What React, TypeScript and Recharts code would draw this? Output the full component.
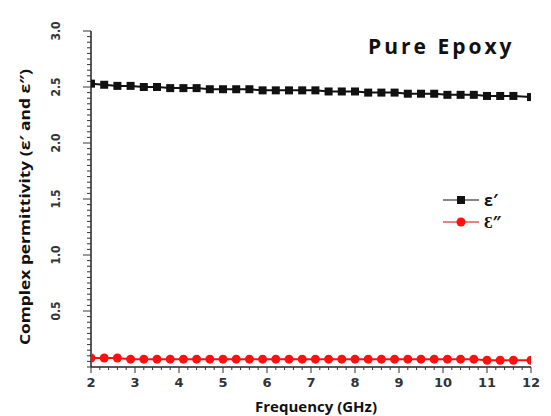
import React from "react";
import { LineChart, Line, XAxis, YAxis, Label } from "recharts";

const frequency = [2.0, 2.3, 2.6, 2.9, 3.2, 3.5, 3.8, 4.1, 4.4, 4.7, 5.0, 5.3, 5.6, 5.9, 6.2, 6.5, 6.8, 7.1, 7.4, 7.7, 8.0, 8.3, 8.6, 8.9, 9.2, 9.5, 9.8, 10.1, 10.4, 10.7, 11.0, 11.3, 11.6, 12.0];
const epsReal = [2.53, 2.52, 2.51, 2.51, 2.5, 2.5, 2.49, 2.49, 2.49, 2.48, 2.48, 2.48, 2.48, 2.47, 2.47, 2.47, 2.47, 2.47, 2.46, 2.46, 2.46, 2.45, 2.45, 2.45, 2.44, 2.44, 2.44, 2.43, 2.43, 2.43, 2.42, 2.42, 2.42, 2.41];
const epsImag = [0.08, 0.08, 0.08, 0.07, 0.07, 0.07, 0.07, 0.07, 0.07, 0.07, 0.07, 0.07, 0.07, 0.07, 0.07, 0.07, 0.07, 0.07, 0.07, 0.07, 0.07, 0.07, 0.07, 0.07, 0.07, 0.07, 0.07, 0.07, 0.07, 0.07, 0.06, 0.06, 0.06, 0.06];

const xMajorLabels = ["2", "3", "4", "5", "6", "7", "8", "9", "10", "11", "12"];
const xAllTicks = [2, 2.2, 2.4, 2.6, 2.8, 3, 3.2, 3.4, 3.6, 3.8, 4, 4.2, 4.4, 4.6, 4.8, 5, 5.2, 5.4, 5.6, 5.8, 6, 6.2, 6.4, 6.6, 6.8, 7, 7.2, 7.4, 7.6, 7.8, 8, 8.2, 8.4, 8.6, 8.8, 9, 9.2, 9.4, 9.6, 9.8, 10, 10.2, 10.4, 10.6, 10.8, 11, 11.2, 11.4, 11.6, 11.8, 12];
const yMajorLabels = ["0.5", "1.0", "1.5", "2.0", "2.5", "3.0"];
const yAllTicks = [0, 0.05, 0.1, 0.15, 0.2, 0.25, 0.3, 0.35, 0.4, 0.45, 0.5, 0.55, 0.6, 0.65, 0.7, 0.75, 0.8, 0.85, 0.9, 0.95, 1.0, 1.05, 1.1, 1.15, 1.2, 1.25, 1.3, 1.35, 1.4, 1.45, 1.5, 1.55, 1.6, 1.65, 1.7, 1.75, 1.8, 1.85, 1.9, 1.95, 2.0, 2.05, 2.1, 2.15, 2.2, 2.25, 2.3, 2.35, 2.4, 2.45, 2.5, 2.55, 2.6, 2.65, 2.7, 2.75, 2.8, 2.85, 2.9, 2.95, 3.0];

const data = frequency.map((f, i) => ({ f, er: epsReal[i], ei: epsImag[i] }));

const SquareDot = (props: any) => {
  const { cx, cy } = props;
  if (cx == null || cy == null) return <g />;
  return <rect x={cx - 4} y={cy - 4} width={8} height={8} fill="#111" />;
};
const RoundDot = (props: any) => {
  const { cx, cy } = props;
  if (cx == null || cy == null) return <g />;
  return <circle cx={cx} cy={cy} r={4.5} fill="#ff1010" />;
};

const YTick = (props: any) => {
  const { x, y, payload } = props;
  const label = payload.value.toFixed(1);
  const isMajor = yMajorLabels.includes(label) && Math.abs(payload.value * 2 - Math.round(payload.value * 2)) < 1e-6;
  const tx = x - 31;
  return (
    <g>
      <line x1={x} y1={y} x2={x - (isMajor ? 8 : 4)} y2={y} stroke="#333" strokeWidth={1} />
      {isMajor && (
        <text
          x={tx}
          y={y}
          transform={`rotate(-90 ${tx} ${y})`}
          textAnchor="middle"
          fontFamily="DejaVu Sans Condensed, DejaVu Sans"
          fontWeight="bold"
          fontSize={12}
          fill="#333"
        >
          {label}
        </text>
      )}
    </g>
  );
};

const XTick = (props: any) => {
  const { x, y, payload } = props;
  const label = String(payload.value);
  const isMajor = xMajorLabels.includes(label);
  return (
    <g>
      <line x1={x} y1={y} x2={x} y2={y + (isMajor ? 6 : 3)} stroke="#333" strokeWidth={1} />
      {isMajor && (
        <text x={x} y={y + 20} textAnchor="middle" fontFamily="DejaVu Sans" fontWeight="bold" fontSize={13} fill="#333">
          {label}
        </text>
      )}
    </g>
  );
};

const YLabel = (props: any) => {
  const vb = props.viewBox || {};
  const cx = 30;
  const cy = (vb.y || 31) + (vb.height || 336) / 2 + 8;
  return (
    <text
      x={cx}
      y={cy}
      transform={`rotate(-90 ${cx} ${cy})`}
      textAnchor="middle"
      fontFamily="Open Sans"
      fontWeight="bold"
      fontSize={15}
      fill="#111"
      textLength={276}
      lengthAdjust="spacingAndGlyphs"
    >
      Complex permittivity (ε′ and ε″)
    </text>
  );
};

const XLabel = () => (
  <text x={316} y={412} textAnchor="middle" fontFamily="Open Sans" fontWeight="bold" fontSize={15} fill="#111" textLength={122} lengthAdjust="spacingAndGlyphs">
    Frequency (GHz)
  </text>
);

export default function App() {
  return (
    <div style={{ position: "absolute", left: 0, top: 0, width: 551, height: 416, background: "#fff" }}>
      <LineChart width={551} height={416} data={data} margin={{ top: 31, right: 20, bottom: 0, left: 0 }}>
        <XAxis xAxisId="main" dataKey="f" type="number" domain={[2, 12]} ticks={xAllTicks} tick={XTick} tickSize={0} tickMargin={0} height={49} axisLine={{ stroke: "#222", strokeWidth: 1.5 }} tickLine={false} interval={0} allowDataOverflow>
          <Label content={<XLabel />} />
        </XAxis>
        <XAxis xAxisId="top" orientation="top" dataKey="f" type="number" domain={[2, 12]} tick={false} tickLine={false} height={0} axisLine={{ stroke: "#444" }} />
        <YAxis yAxisId="main" type="number" domain={[0, 3]} ticks={yAllTicks} tick={YTick} tickSize={0} tickMargin={0} width={91} axisLine={{ stroke: "#222", strokeWidth: 1.5 }} tickLine={false} interval={0} allowDataOverflow>
          <Label content={<YLabel />} />
        </YAxis>
        <YAxis yAxisId="right" orientation="right" type="number" domain={[0, 3]} tick={false} tickLine={false} width={0} axisLine={{ stroke: "#222", strokeWidth: 1.5 }} />
        <Line xAxisId="main" yAxisId="main" dataKey="er" stroke="#111" strokeWidth={2} dot={<SquareDot />} isAnimationActive={false} />
        <Line xAxisId="main" yAxisId="main" dataKey="ei" stroke="#ff1010" strokeWidth={2} dot={<RoundDot />} isAnimationActive={false} />
      </LineChart>
      <div style={{ position: "absolute", left: 368, top: 32, fontFamily: "Open Sans", fontWeight: "bold", fontSize: 21, color: "#111", whiteSpace: "nowrap", letterSpacing: 3 }}>
        Pure Epoxy
      </div>
      <div style={{ position: "absolute", left: 443, top: 189, fontFamily: "Open Sans", fontWeight: "bold", fontSize: 16, color: "#111", lineHeight: "22px" }}>
        <div style={{ display: "flex", alignItems: "center" }}>
          <svg width={36} height={12}>
            <line x1={0} y1={6} x2={36} y2={6} stroke="#888" strokeWidth={2} />
            <rect x={14} y={2} width={8} height={8} fill="#111" />
          </svg>
          <span style={{ marginLeft: 5 }}>ε′</span>
        </div>
        <div style={{ display: "flex", alignItems: "center" }}>
          <svg width={36} height={12}>
            <line x1={0} y1={6} x2={36} y2={6} stroke="#f08080" strokeWidth={2} />
            <circle cx={18} cy={6} r={4.5} fill="#ff1010" />
          </svg>
          <span style={{ marginLeft: 5 }}>Ɛ″</span>
        </div>
      </div>
    </div>
  );
}
